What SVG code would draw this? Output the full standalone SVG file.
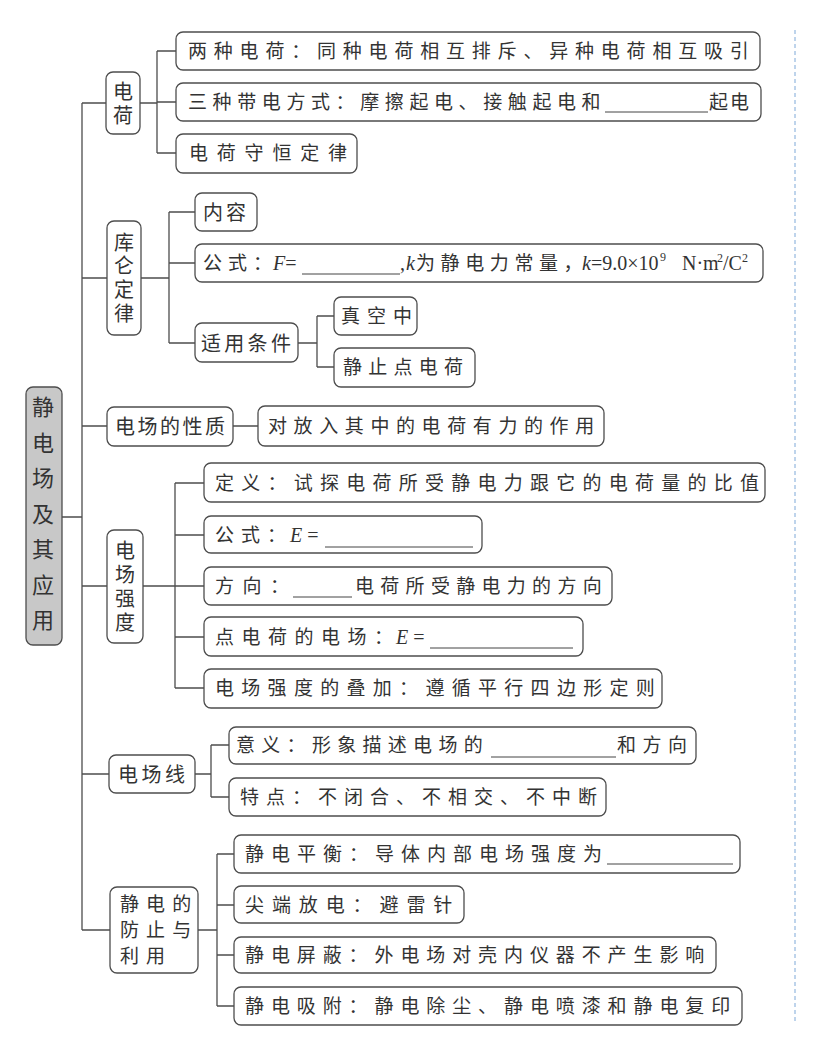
<svg xmlns="http://www.w3.org/2000/svg" width="815" height="1046" viewBox="0 0 815 1046">
<style>
.box{fill:#fff;stroke:#4d4d4d;stroke-width:1.3}
.root{fill:#c8c8c8;stroke:#4d4d4d;stroke-width:1.3}
.t{font-family:"Noto Sans CJK SC","Noto Sans CJK TC",sans-serif;font-size:19px;fill:#333}
.t20{font-size:20px}
.t22{font-size:22px}
.v{writing-mode:vertical-rl}
.m{font-family:"Liberation Serif",serif;font-size:20px;fill:#333}
.s{font-family:"Liberation Serif",serif;font-size:12px;fill:#333}
.i{font-style:italic}
.u{stroke:#444;stroke-width:1}
.c{fill:none;stroke:#4d4d4d;stroke-width:1.3}
</style>
<rect width="815" height="1046" fill="#fff"/>
<line x1="795" y1="30" x2="795" y2="1022" stroke="#7fa9d8" stroke-width="1" stroke-dasharray="4 3"/>
<g id="connectors">
<path class="c" d="M62 517H82 M82 103V930 M82 103H106 M82 278H107 M82 426H107 M82 586H107 M82 774H109 M82 930H110
M140 103H157 M157 51V153 M157 51H176 M157 102H176 M157 153H176
M141 278H169 M169 212V343 M169 212H195 M169 263H195 M169 343H195
M298 343H317 M317 316V367 M317 316H334 M317 367H334
M233 426H258
M143 586H175 M175 483V688 M175 483H204 M175 535H204 M175 586H204 M175 637H204 M175 688H204
M195 774H211 M211 745V797 M211 745H229 M211 797H229
M198 930H217 M217 854V1006 M217 854H234 M217 905H234 M217 955H234 M217 1006H234"/>
</g>
<g id="root">
<rect class="root" x="26" y="387" width="36" height="258" rx="7"/>
<text class="t t22 v" x="43" y="396" letter-spacing="13.5">静电场及其应用</text>
</g>
<g id="n-dianhe">
<rect class="box" x="106" y="72" width="34" height="62" rx="7"/>
<text class="t t20 v" x="123" y="81" letter-spacing="4.5">电荷</text>
</g>
<g id="l-liangzhong">
<rect class="box" x="176" y="32" width="584" height="38" rx="7"/>
<text class="t" x="188" y="58" letter-spacing="6.8">两种电荷：同种电荷相互排斥、异种电荷相互吸<tspan letter-spacing="0">引</tspan></text>
</g>
<g id="l-sanzhong">
<rect class="box" x="176" y="83" width="585" height="38" rx="7"/>
<text class="t" x="188" y="109" letter-spacing="5.6">三种带电方式：摩擦起电、接触起电<tspan letter-spacing="0">和</tspan></text>
<line class="u" x1="605" y1="112" x2="708" y2="112"/>
<text class="t" x="709" y="109" letter-spacing="2">起<tspan letter-spacing="0">电</tspan></text>
</g>
<g id="l-shouheng">
<rect class="box" x="176" y="134" width="181" height="39" rx="7"/>
<text class="t" x="189" y="160" letter-spacing="8.8">电荷守恒定<tspan letter-spacing="0">律</tspan></text>
</g>
<g id="n-kulun">
<rect class="box" x="107" y="221" width="34" height="114" rx="7"/>
<text class="t t20 v" x="124" y="232" letter-spacing="3.7">库仑定律</text>
</g>
<g id="l-neirong">
<rect class="box" x="195" y="193" width="62" height="38" rx="7"/>
<text class="t t20" x="203" y="219.5" letter-spacing="3">内<tspan letter-spacing="0">容</tspan></text>
</g>
<g id="l-gongshiF">
<rect class="box" x="195" y="244" width="568" height="38" rx="7"/>
<text class="t" x="203" y="270" letter-spacing="6">公式<tspan letter-spacing="0">：</tspan></text>
<text class="m" x="273" y="270"><tspan class="i">F</tspan>=</text>
<line class="u" x1="302" y1="274" x2="400" y2="274"/>
<text class="m" x="400" y="270">,</text>
<text class="m i" x="406" y="270">k</text>
<text class="t" x="416" y="270" letter-spacing="5.6">为静电力常量<tspan letter-spacing="0">，</tspan></text>
<text class="m" x="582" y="270"><tspan class="i">k</tspan>=9.0×10</text>
<text class="s" x="660" y="261">9</text>
<text class="m" x="682" y="270">N·m</text>
<text class="s" x="717" y="262">2</text>
<text class="m" x="723" y="270">/C</text>
<text class="s" x="742" y="262">2</text>
</g>
<g id="l-shiyong">
<rect class="box" x="195" y="323" width="103" height="39" rx="7"/>
<text class="t t20" x="201" y="350.5" letter-spacing="3.3">适用条<tspan letter-spacing="0">件</tspan></text>
</g>
<g id="l-zhenkong">
<rect class="box" x="334" y="297" width="83" height="38" rx="7"/>
<text class="t" x="341" y="323" letter-spacing="7">真空<tspan letter-spacing="0">中</tspan></text>
</g>
<g id="l-jingzhi">
<rect class="box" x="334" y="348" width="141" height="39" rx="7"/>
<text class="t" x="343" y="374" letter-spacing="6.25">静止点电<tspan letter-spacing="0">荷</tspan></text>
</g>
<g id="n-xingzhi">
<rect class="box" x="107" y="407" width="126" height="39" rx="7"/>
<text class="t t20" x="115" y="433.5" letter-spacing="2.5">电场的性<tspan letter-spacing="0">质</tspan></text>
</g>
<g id="l-duifang">
<rect class="box" x="258" y="406" width="346" height="40" rx="7"/>
<text class="t" x="268" y="433" letter-spacing="6.6">对放入其中的电荷有力的作<tspan letter-spacing="0">用</tspan></text>
</g>
<g id="n-qiangdu">
<rect class="box" x="107" y="530" width="36" height="113" rx="7"/>
<text class="t t20 v" x="125" y="540" letter-spacing="4">电场强度</text>
</g>
<g id="l-dingyi">
<rect class="box" x="204" y="463" width="561" height="39" rx="7"/>
<text class="t" x="215" y="490" letter-spacing="7.25">定义：试探电荷所受静电力跟它的电荷量的比<tspan letter-spacing="0">值</tspan></text>
</g>
<g id="l-gongshiE">
<rect class="box" x="204" y="516" width="278" height="37" rx="7"/>
<text class="t" x="215" y="542" letter-spacing="7">公式<tspan letter-spacing="0">：</tspan></text>
<text class="m" x="290" y="542"><tspan class="i">E</tspan> =</text>
<line class="u" x1="325" y1="547" x2="473" y2="547"/>
</g>
<g id="l-fangxiang">
<rect class="box" x="204" y="567" width="408" height="38" rx="7"/>
<text class="t" x="215" y="593" letter-spacing="8.5">方向<tspan letter-spacing="0">：</tspan></text>
<line class="u" x1="293" y1="597" x2="352" y2="597"/>
<text class="t" x="355" y="593" letter-spacing="6.3">电荷所受静电力的方<tspan letter-spacing="0">向</tspan></text>
</g>
<g id="l-diandianhe">
<rect class="box" x="204" y="617" width="379" height="39" rx="7"/>
<text class="t" x="215" y="644" letter-spacing="7.5">点电荷的电场<tspan letter-spacing="0">：</tspan></text>
<text class="m" x="396" y="644"><tspan class="i">E</tspan> =</text>
<line class="u" x1="430" y1="648" x2="573" y2="648"/>
</g>
<g id="l-diejia">
<rect class="box" x="204" y="669" width="458" height="39" rx="7"/>
<text class="t" x="215" y="695" letter-spacing="7.3">电场强度的叠加：遵循平行四边形定<tspan letter-spacing="0">则</tspan></text>
</g>
<g id="n-dianchangxian">
<rect class="box" x="109" y="755" width="86" height="38" rx="7"/>
<text class="t t20" x="118" y="781.5" letter-spacing="3.5">电场<tspan letter-spacing="0">线</tspan></text>
</g>
<g id="l-yiyi">
<rect class="box" x="229" y="727" width="467" height="37" rx="7"/>
<text class="t" x="236" y="752" letter-spacing="6.3">意义：形象描述电场<tspan letter-spacing="0">的</tspan></text>
<line class="u" x1="491" y1="757" x2="616" y2="757"/>
<text class="t" x="617" y="752" letter-spacing="6.5">和方<tspan letter-spacing="0">向</tspan></text>
</g>
<g id="l-tedian">
<rect class="box" x="229" y="778" width="377" height="38" rx="7"/>
<text class="t" x="240" y="804" letter-spacing="7">特点：不闭合、不相交、不中<tspan letter-spacing="0">断</tspan></text>
</g>
<g id="n-fangzhi">
<rect class="box" x="110" y="887" width="88" height="86" rx="7"/>
<text class="t" font-size="17.9" letter-spacing="7.1"><tspan x="120" y="911">静电的</tspan><tspan x="120" y="937">防止与</tspan><tspan x="120" y="963">利用</tspan></text>
</g>
<g id="l-pingheng">
<rect class="box" x="234" y="835" width="506" height="38" rx="7"/>
<text class="t" x="245" y="861" letter-spacing="7">静电平衡：导体内部电场强度<tspan letter-spacing="0">为</tspan></text>
<line class="u" x1="607" y1="864" x2="733" y2="864"/>
</g>
<g id="l-jianduan">
<rect class="box" x="234" y="886" width="230" height="37" rx="7"/>
<text class="t" x="245" y="912" letter-spacing="7.9">尖端放电：避雷<tspan letter-spacing="0">针</tspan></text>
</g>
<g id="l-pingbi">
<rect class="box" x="234" y="937" width="482" height="36" rx="7"/>
<text class="t" x="245" y="962" letter-spacing="6.9">静电屏蔽：外电场对壳内仪器不产生影<tspan letter-spacing="0">响</tspan></text>
</g>
<g id="l-xifu">
<rect class="box" x="234" y="987" width="508" height="38" rx="7"/>
<text class="t" x="245" y="1013" letter-spacing="6.9">静电吸附：静电除尘、静电喷漆和静电复<tspan letter-spacing="0">印</tspan></text>
</g>
</svg>
